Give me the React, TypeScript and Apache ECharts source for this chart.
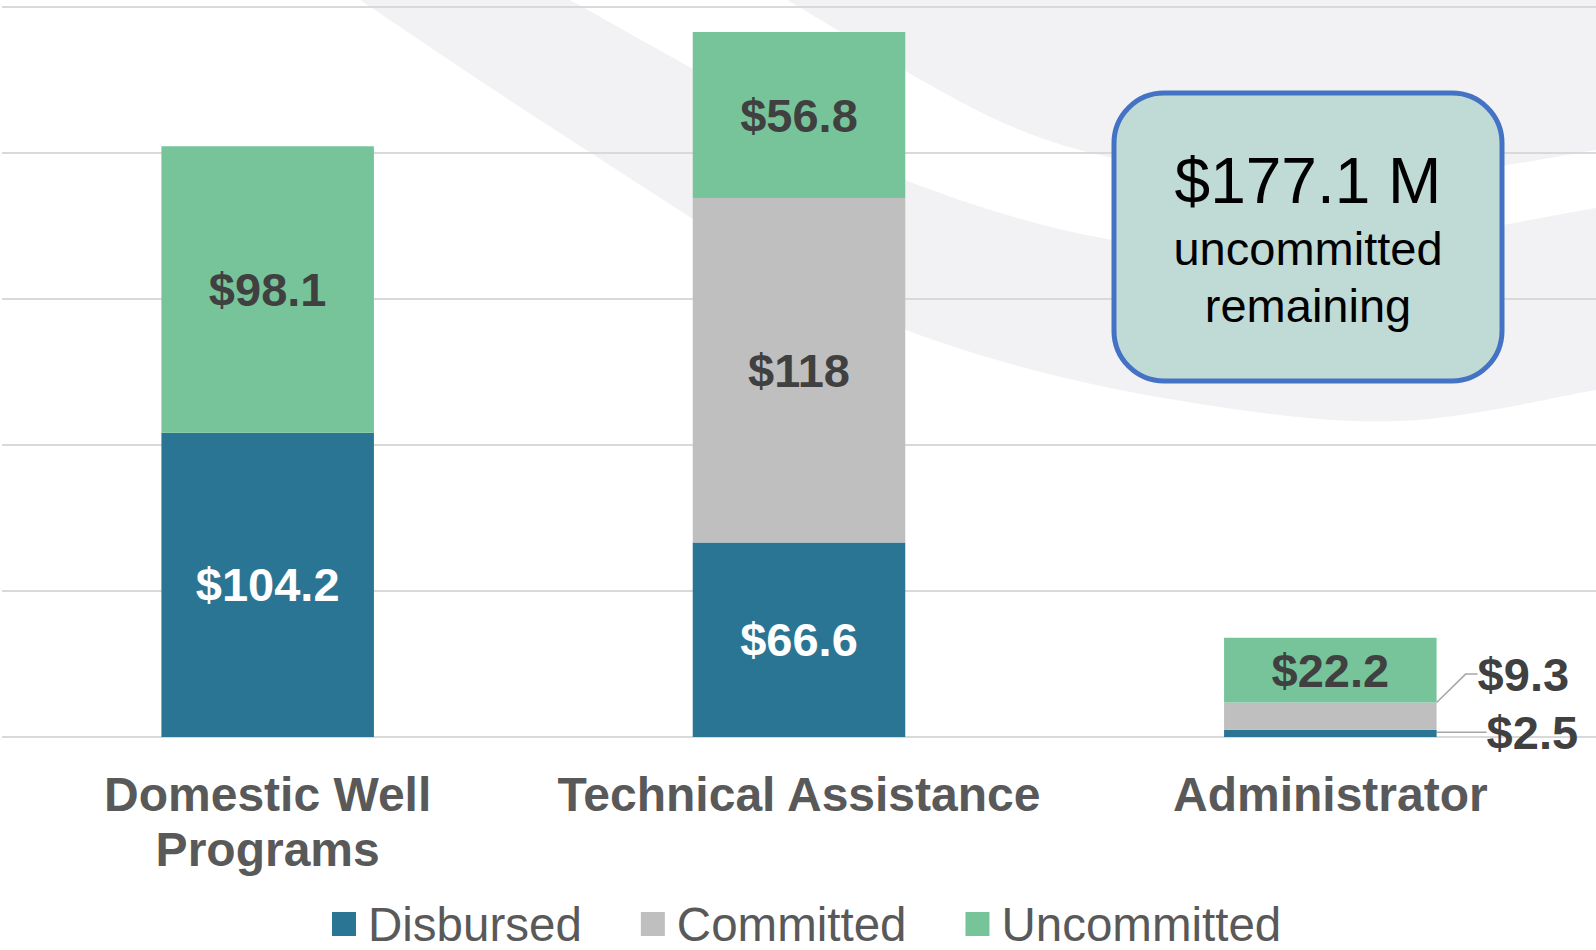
import React, { useEffect, useRef } from 'react';
import * as echarts from 'echarts';

const categories = ['Domestic Well\nPrograms', 'Technical Assistance', 'Administrator'];
const seriesNames = ['Disbursed', 'Committed', 'Uncommitted'];
const disbursed = [104.2, 66.6, 2.5];
const committed = [0, 118, 9.3];
const uncommitted = [98.1, 56.8, 22.2];
const yMin = 0;
const yMax = 250;
const yInterval = 50;
const calloutLines = ['$177.1 M', 'uncommitted', 'remaining'];

const FONT = '"Liberation Sans", Arial, Helvetica, sans-serif';
const COLORS = ['#2B7594', '#BFBFBF', '#77C49B'];

// decorative background swoosh outlines (page pixels)
const HIGH_EDGE: number[][] = [[1596, 150], [1420, 175], [1200, 171], [1013, 127], [787, 0]];
const LOW_TOP_EDGE: number[][] = [[570, 0], [750, 100], [905, 180], [1113, 240], [1330, 250], [1596, 208]];
const LOW_BOTTOM_EDGE: number[][] = [[1596, 390], [1400, 421], [1200, 404], [990, 358], [800, 282], [560, 133], [360, 0]];

function smooth(pts: number[][]): string {
  let s = '';
  for (let i = 0; i < pts.length - 1; i++) {
    const p0 = pts[i - 1] || pts[i];
    const p1 = pts[i];
    const p2 = pts[i + 1];
    const p3 = pts[i + 2] || p2;
    const c1x = p1[0] + (p2[0] - p0[0]) / 6;
    const c1y = p1[1] + (p2[1] - p0[1]) / 6;
    const c2x = p2[0] - (p3[0] - p1[0]) / 6;
    const c2y = p2[1] - (p3[1] - p1[1]) / 6;
    s += ` C${c1x.toFixed(1)} ${c1y.toFixed(1)} ${c2x.toFixed(1)} ${c2y.toFixed(1)} ${p2[0]} ${p2[1]}`;
  }
  return s;
}

const SWOOSH_HIGH = `M787 0 L1596 0 L1596 150${smooth(HIGH_EDGE)} Z`;
const SWOOSH_LOW = `M360 0 L570 0${smooth(LOW_TOP_EDGE)} L1596 390${smooth(LOW_BOTTOM_EDGE)} Z`;

let registered = false;
function registerShapes() {
  if (registered) return;
  registered = true;
  echarts.graphic.registerShape('swooshLow', echarts.graphic.extendPath(SWOOSH_LOW, {}) as any);
  echarts.graphic.registerShape('swooshHigh', echarts.graphic.extendPath(SWOOSH_HIGH, {}) as any);
}

const fmt = (p: any) => (p.value ? '$' + p.value : '');

function baseLabel(color: string) {
  return {
    show: true,
    position: 'inside',
    fontFamily: FONT,
    fontSize: 47,
    fontWeight: 'bold',
    color,
    textBorderWidth: 0,
    formatter: fmt,
  };
}

const leader = { show: true, length2: 12, lineStyle: { color: '#A6A6A6', width: 1.5 } };

export default function App() {
  const ref = useRef<HTMLDivElement>(null);

  useEffect(() => {
    document.body.style.margin = '0';
    registerShapes();
    const chart = echarts.init(ref.current!, null, { renderer: 'svg' });

    const disbursedData = disbursed.map((v, i) =>
      i === 2
        ? { value: v, label: { position: 'right', distance: 50, color: '#404040' }, labelLine: leader }
        : v
    );
    const committedData = committed.map((v, i) =>
      i === 2 ? { value: v, label: { position: 'right', distance: 41 }, labelLine: leader } : v
    );

    const boxText = (text: string, y: number, size: number) => ({
      type: 'text',
      x: 1308,
      y,
      z: 100,
      style: {
        text,
        font: `${size}px ${FONT}`,
        fill: '#000000',
        align: 'center',
        verticalAlign: 'middle',
      },
    });

    const option: any = {
      animation: false,
      backgroundColor: '#FFFFFF',
      grid: { left: 2, right: 0, top: 7, bottom: 213, containLabel: false },
      xAxis: {
        type: 'category',
        data: categories,
        axisLine: { show: false },
        axisTick: { show: false },
        axisLabel: {
          margin: 30,
          fontFamily: FONT,
          fontSize: 48,
          fontWeight: 'bold',
          color: '#595959',
          lineHeight: 55,
          interval: 0,
        },
      },
      yAxis: {
        type: 'value',
        min: yMin,
        max: yMax,
        interval: yInterval,
        axisLabel: { show: false },
        axisLine: { show: false },
        axisTick: { show: false },
        splitLine: { show: true, lineStyle: { color: '#D9D9D9', width: 2 } },
      },
      legend: {
        data: seriesNames,
        left: 332,
        top: 900,
        padding: 0,
        itemWidth: 24,
        itemHeight: 24,
        itemGap: 59,
        icon: 'rect',
        textStyle: { fontFamily: FONT, fontSize: 47.5, color: '#595959', padding: [0, 0, 0, 7], lineHeight: 44 },
      },
      series: [
        {
          name: seriesNames[0],
          type: 'bar',
          stack: 'total',
          barWidth: '40%',
          itemStyle: { color: COLORS[0] },
          label: baseLabel('#FFFFFF'),
          labelLayout: (p: any) => (p.dataIndex === 2 ? { dy: -1 } : {}),
          data: disbursedData,
        },
        {
          name: seriesNames[1],
          type: 'bar',
          stack: 'total',
          barWidth: '40%',
          itemStyle: { color: COLORS[1] },
          label: baseLabel('#404040'),
          labelLayout: (p: any) => (p.dataIndex === 2 ? { dy: -42 } : {}),
          data: committedData,
        },
        {
          name: seriesNames[2],
          type: 'bar',
          stack: 'total',
          barWidth: '40%',
          itemStyle: { color: COLORS[2] },
          label: baseLabel('#404040'),
          data: uncommitted,
        },
      ],
      graphic: {
        elements: [
          { type: 'swooshHigh', x: 0, y: 0, z: -10, silent: true, style: { fill: '#F2F2F4' } },
          { type: 'swooshLow', x: 0, y: 0, z: -10, silent: true, style: { fill: '#F2F2F4' } },
          {
            type: 'rect',
            z: 100,
            shape: { x: 1114, y: 93, width: 388, height: 288, r: 50 },
            style: { fill: '#C0DAD5', stroke: '#4472C4', lineWidth: 5 },
          },
          boxText(calloutLines[0], 181, 64),
          boxText(calloutLines[1], 248, 47),
          boxText(calloutLines[2], 305, 47),
        ],
      },
    };

    chart.setOption(option);
    return () => chart.dispose();
  }, []);

  return <div ref={ref} style={{ width: 1596, height: 950 }} />;
}
